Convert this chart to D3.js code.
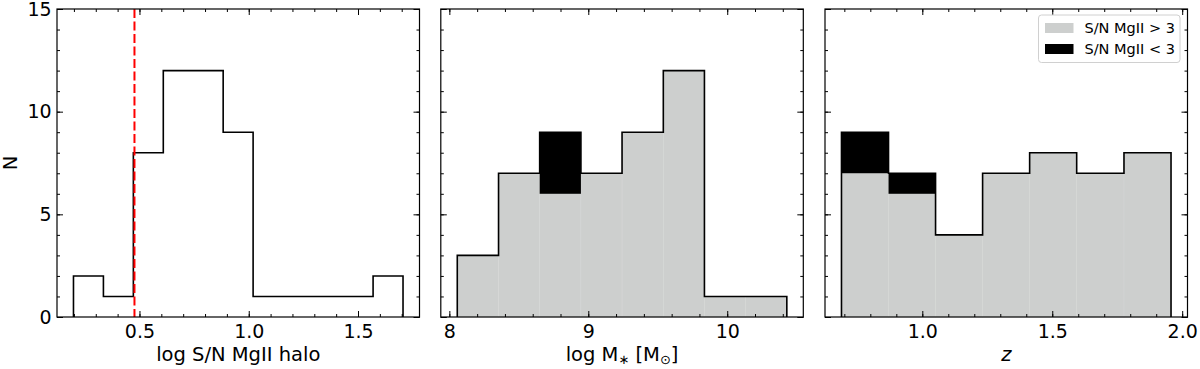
<!DOCTYPE html>
<meta charset="utf-8">
<title>Histograms</title>
<style>

body {
  margin: 0;
  background: #fff;
}

svg {
  font-family: "DejaVu Sans", sans-serif;
}

.tick line {
  stroke: #000;
}

.tick text {
  font-size: 19px;
  fill: #000;
}

</style>
<body>
<script src="https://cdn.jsdelivr.net/npm/d3@7"></script>
<script>

// left panel: log S/N of the MgII halo
var snEdges = [0.198, 0.335, 0.472, 0.609, 0.746, 0.883, 1.020, 1.157, 1.294, 1.432, 1.569, 1.706],
    snCounts = [2, 1, 8, 12, 12, 9, 1, 1, 1, 1, 2],
    snCut = 0.4771;

// middle panel: stellar mass
var massEdges = [8.057, 8.354, 8.650, 8.947, 9.243, 9.540, 9.836, 10.133, 10.429],
    massHigh = [3, 7, 6, 7, 9, 12, 1, 1],
    massLow = [0, 0, 3, 0, 0, 0, 0, 0];

// right panel: redshift
var zEdges = [0.689, 0.870, 1.051, 1.232, 1.413, 1.594, 1.776, 1.957],
    zHigh = [7, 6, 4, 7, 8, 7, 8],
    zLow = [2, 1, 0, 0, 0, 0, 0];

var yTicks = [0, 5, 10, 15];

var legendLabels = ["S/N MgII > 3", "S/N MgII < 3"];

var w = 1200,
    h = 369,
    plotTop = 9,
    plotBottom = 317,
    grey = "#cdcfce";

var svg = d3.select("body").append("svg")
    .attr("width", w)
    .attr("height", h);

var y = d3.scaleLinear()
    .domain([0, 15])
    .range([plotBottom, plotTop]);

function range(a, b, step) {
  var out = [];
  for (var v = a; v <= b + 1e-9; v += step) out.push(+v.toFixed(3));
  return out;
}

function panel(p) {
  var lo = p.edges[0], hi = p.edges[p.edges.length - 1], pad = (hi - lo) * 0.05;
  var x = d3.scaleLinear()
      .domain([lo - pad, hi + pad])
      .range([p.left, p.left + 362.5]);

  var g = svg.append("g");
  var high = p.high, low = p.low || p.high.map(function() { return 0; });
  var total = high.map(function(d, i) { return d + low[i]; });

  if (p.filled) {
    g.selectAll(".hi")
        .data(high)
      .enter().append("rect")
        .attr("x", function(d, i) { return x(p.edges[i]); })
        .attr("width", function(d, i) { return x(p.edges[i + 1]) - x(p.edges[i]); })
        .attr("y", function(d) { return y(d); })
        .attr("height", function(d) { return y(0) - y(d); })
        .style("fill", grey)
        .style("stroke", "#d5d7d6")
        .style("stroke-width", 0.5);

    g.selectAll(".lo")
        .data(low)
      .enter().append("rect")
        .attr("x", function(d, i) { return x(p.edges[i]); })
        .attr("width", function(d, i) { return x(p.edges[i + 1]) - x(p.edges[i]); })
        .attr("y", function(d, i) { return y(high[i] + d); })
        .attr("height", function(d, i) { return y(high[i]) - y(high[i] + d); })
        .style("fill", "#000");
  }

  var pts = [[p.edges[0], 0]];
  total.forEach(function(d, i) {
    pts.push([p.edges[i], d], [p.edges[i + 1], d]);
  });
  pts.push([hi, 0]);

  g.append("path")
      .attr("d", d3.line().x(function(d) { return x(d[0]); }).y(function(d) { return y(d[1]); })(pts))
      .style("fill", "none")
      .style("stroke", "#000")
      .style("stroke-width", 1.6);

  if (p.cut != null) {
    g.append("line")
        .attr("x1", x(p.cut))
        .attr("x2", x(p.cut))
        .attr("y1", plotTop)
        .attr("y2", plotBottom)
        .style("stroke", "#ff0000")
        .style("stroke-width", 2)
        .style("stroke-dasharray", "9,3.5");
  }

  // axes, ticks pointing in on all four sides
  var minorX = range(p.minor[0], p.minor[1], p.minor[2]);
  var minorY = range(0, 15, 1);

  g.append("g")
      .attr("transform", "translate(0," + plotBottom + ")")
      .call(d3.axisBottom(x).tickValues(minorX).tickSize(-3).tickFormat(""));
  g.append("g")
      .attr("transform", "translate(0," + plotBottom + ")")
      .call(d3.axisBottom(x).tickValues(p.ticks).tickSize(-6).tickPadding(7.5).tickFormat(p.format));
  g.append("g")
      .attr("transform", "translate(0," + plotTop + ")")
      .call(d3.axisTop(x).tickValues(minorX).tickSize(-3).tickFormat(""));
  g.append("g")
      .attr("transform", "translate(0," + plotTop + ")")
      .call(d3.axisTop(x).tickValues(p.ticks).tickSize(-6).tickFormat(""));

  g.append("g")
      .attr("transform", "translate(" + x.range()[0] + ",0)")
      .call(d3.axisLeft(y).tickValues(minorY).tickSize(-3).tickFormat(""));
  g.append("g")
      .attr("transform", "translate(" + x.range()[0] + ",0)")
      .call(d3.axisLeft(y).tickValues(yTicks).tickSize(-6).tickPadding(5.3)
        .tickFormat(p.yLabels ? d3.format("d") : ""));
  g.append("g")
      .attr("transform", "translate(" + x.range()[1] + ",0)")
      .call(d3.axisRight(y).tickValues(minorY).tickSize(-3).tickFormat(""));
  g.append("g")
      .attr("transform", "translate(" + x.range()[1] + ",0)")
      .call(d3.axisRight(y).tickValues(yTicks).tickSize(-6).tickFormat(""));

  g.selectAll(".domain").remove();
  g.selectAll("g").attr("font-family", null).attr("font-size", null);

  g.append("rect")
      .attr("x", x.range()[0])
      .attr("y", plotTop)
      .attr("width", x.range()[1] - x.range()[0])
      .attr("height", plotBottom - plotTop)
      .style("fill", "none")
      .style("stroke", "#000")
      .style("stroke-width", 1.2);

  var label = g.append("text")
      .attr("x", (x.range()[0] + x.range()[1]) / 2)
      .attr("y", 361)
      .attr("text-anchor", "middle")
      .style("font-size", "19.5px");
  p.label(label);

  return x;
}

panel({
  left: 57,
  edges: snEdges,
  high: snCounts,
  filled: false,
  cut: snCut,
  ticks: [0.5, 1.0, 1.5],
  minor: [0.2, 1.7, 0.1],
  format: d3.format(".1f"),
  yLabels: true,
  label: function(t) { t.text("log S/N MgII halo"); }
});

panel({
  left: 440.8,
  edges: massEdges,
  high: massHigh,
  low: massLow,
  filled: true,
  ticks: [8, 9, 10],
  minor: [8, 10.4, 0.2],
  format: d3.format("d"),
  label: function(t) {
    t.append("tspan").text("log M");
    t.append("tspan").text("\u2217").style("font-size", "13px").attr("dy", 3);
    t.append("tspan").text(" [M").attr("dy", -3);
    t.append("tspan").text("\u2299").style("font-size", "13px").attr("dy", 3);
    t.append("tspan").text("]").attr("dy", -3);
  }
});

panel({
  left: 825,
  edges: zEdges,
  high: zHigh,
  low: zLow,
  filled: true,
  ticks: [1.0, 1.5, 2.0],
  minor: [0.7, 2.0, 0.1],
  format: d3.format(".1f"),
  label: function(t) { t.text("z").style("font-style", "italic"); }
});

// N label
svg.append("text")
    .attr("transform", "translate(16.5,163)rotate(-90)")
    .attr("text-anchor", "middle")
    .style("font-size", "19.5px")
    .text("N");

// legend
var legend = svg.append("g");

legend.append("rect")
    .attr("x", 1038.5)
    .attr("y", 15)
    .attr("width", 141.5)
    .attr("height", 47.5)
    .attr("rx", 3)
    .style("fill", "#fff")
    .style("fill-opacity", 0.8)
    .style("stroke", "#d0d0d0")
    .style("stroke-width", 1);

var items = legend.selectAll(".item")
    .data(legendLabels)
  .enter().append("g")
    .attr("transform", function(d, i) { return "translate(1045," + (28 + i * 21) + ")"; });

items.append("rect")
    .attr("y", -5)
    .attr("width", 28.5)
    .attr("height", 10)
    .style("fill", function(d, i) { return i ? "#000" : grey; });

items.append("text")
    .attr("x", 39.5)
    .attr("y", 5.3)
    .style("font-size", "14.5px")
    .text(function(d) { return d; });

</script>
